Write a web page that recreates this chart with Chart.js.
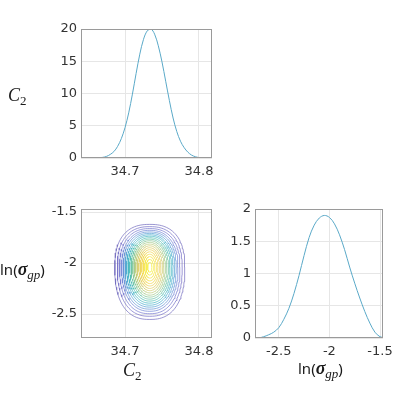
<!DOCTYPE html>
<html>
<head>
<meta charset="utf-8">
<script src="https://cdn.jsdelivr.net/npm/chart.js@4.4.1/dist/chart.umd.min.js"></script>
<style>
  html, body { margin: 0; padding: 0; background: #fff; }
  #wrap { position: relative; width: 399px; height: 393px; overflow: hidden; }
  .panel { position: absolute; }
  .lab { position: absolute; color: #1a1a1a; white-space: nowrap; line-height: 1; }
  .m { font-family: 'Liberation Serif', serif; font-style: italic; font-size: 18px; }
  .fn { font-family: 'Noto Sans', sans-serif; font-size: 15px; }
  .sig { font-family: 'Liberation Serif', serif; font-style: italic; font-weight: bold; font-size: 18px; }
  .sb { position: relative; top: 4px; font-family: 'Liberation Serif', serif; font-size: 13px; }
  .sbi { font-style: italic; }
</style>
</head>
<body>
<div id="wrap">
  <div class="panel" style="left:0;top:0;width:225px;height:190px"><canvas id="c2Chart"></canvas></div>
  <div class="panel" style="left:0;top:180px;width:225px;height:190px"><canvas id="jointChart"></canvas></div>
  <div class="panel" style="left:225px;top:180px;width:174px;height:190px"><canvas id="lnChart"></canvas></div>

  <!-- axis labels -->
  <div class="lab" style="left:8px;top:86px"><span class="m">C</span><span class="sb">2</span></div>
  <div class="lab" style="left:0;top:260px"><span class="fn">ln(</span><span class="sig">σ</span><span class="sb sbi">gp</span><span class="fn">)</span></div>
  <div class="lab" style="left:123px;top:361px"><span class="m">C</span><span class="sb">2</span></div>
  <div class="lab" style="left:298px;top:359px"><span class="fn">ln(</span><span class="sig">σ</span><span class="sb sbi">gp</span><span class="fn">)</span></div>
</div>
<script>
// marginal of C2
const c2Grid = [34.640, 34.645, 34.650, 34.655, 34.660, 34.665, 34.670, 34.675, 34.680, 34.685,
                34.690, 34.695, 34.700, 34.705, 34.710, 34.715, 34.720, 34.725, 34.730, 34.735,
                34.740, 34.745, 34.750, 34.755, 34.760, 34.765, 34.770, 34.775, 34.780, 34.785,
                34.790, 34.795, 34.800, 34.805, 34.810, 34.815, 34.820];
const c2Density = [0, 0, 0, 0, 0.01, 0.04, 0.1, 0.25, 0.55, 1.0,
                   1.8, 3.0, 4.7, 7.0, 9.9, 13.1, 16.1, 18.4, 19.7, 20.0,
                   19.2, 17.4, 14.9, 11.9, 8.9, 6.2, 4.1, 2.6, 1.6, 0.9,
                   0.45, 0.2, 0.07, 0.02, 0, 0, 0];

// marginal of ln(sigma_gp)
const lnGrid = [-2.75, -2.70, -2.65, -2.60, -2.55, -2.50, -2.45, -2.40, -2.35, -2.30,
                -2.25, -2.20, -2.15, -2.10, -2.05, -2.00, -1.95, -1.90, -1.85, -1.80,
                -1.75, -1.70, -1.65, -1.60, -1.55, -1.50, -1.45];
const lnDensity = [0, 0, 0.02, 0.05, 0.09, 0.16, 0.29, 0.46, 0.69, 0.97,
                   1.28, 1.56, 1.75, 1.86, 1.90, 1.87, 1.77, 1.60, 1.37, 1.10,
                   0.85, 0.62, 0.41, 0.23, 0.09, 0.02, 0];

// ticks
const c2Ticks = [34.7, 34.8];
const c2TickLabels = ['34.7', '34.8'];
const lnTicks = [-2.5, -2, -1.5];
const lnTickLabels = ['-2.5', '-2', '-1.5'];
const c2DensTicks = [0, 5, 10, 15, 20];
const c2DensTickLabels = ['0', '5', '10', '15', '20'];
const lnDensTicks = [0, 0.5, 1, 1.5, 2];
const lnDensTickLabels = ['0', '0.5', '1', '1.5', '2'];

// joint contours, outer ring first: half widths in C2, half heights up/down in ln(sigma_gp)
const peakC2 = 34.7335;
const peakLn = -2.04;
const ringRx = [0.0473, 0.0438, 0.0408, 0.0381, 0.0357, 0.0335, 0.0314, 0.0293, 0.0273, 0.0253,
                0.0232, 0.0212, 0.0192, 0.0172, 0.0151, 0.0131, 0.0111, 0.0091, 0.0070, 0.0050, 0.0030];
const ringUp = [0.419, 0.397, 0.378, 0.361, 0.345, 0.331, 0.317, 0.303, 0.288, 0.274,
                0.259, 0.243, 0.226, 0.209, 0.190, 0.171, 0.150, 0.127, 0.103, 0.076, 0.047];
const ringDown = [0.513, 0.482, 0.457, 0.433, 0.412, 0.392, 0.373, 0.353, 0.333, 0.314,
                  0.294, 0.275, 0.253, 0.231, 0.209, 0.185, 0.161, 0.135, 0.108, 0.078, 0.049];
const ringRound = [2.45, 2.4, 2.35, 2.3, 2.3, 2.25, 2.2, 2.2, 2.15, 2.1,
                   2.1, 2.05, 2.05, 2, 2, 2, 2, 2, 2, 2, 2];

// pale parula colours, outer to inner
const ringColors = ['#7068bd', '#726cc6', '#7276ce', '#6d82d4', '#6290d6', '#519ed2', '#43aacb',
                    '#3fb4c0', '#4cbbb3', '#66c1a4', '#84c694', '#a2c986', '#bccb79', '#d2cc6e',
                    '#e2ce64', '#ecd25c', '#f2d855', '#f5df50', '#f6e64c', '#f6ec4a', '#f6f149'];

const lineColor = '#5aa9c8';

function ringPoints(i) {
    const pts = [];
    const n = ringRound[i];
    for (let k = 0; k <= 120; k++) {
        const t = (k / 120) * 2 * Math.PI;
        const c = Math.cos(t), s = Math.sin(t);
        const px = Math.sign(c) * Math.pow(Math.abs(c), 2 / n);
        const py = Math.sign(s) * Math.pow(Math.abs(s), 2 / n);
        pts.push({ x: peakC2 + ringRx[i] * px, y: peakLn + (py > 0 ? ringUp[i] : ringDown[i]) * py });
    }
    return pts;
}

// draws the full box round the plot area
const boxPlugin = {
    id: 'box',
    afterDraw(chart) {
        const { ctx, chartArea: a } = chart;
        ctx.save();
        ctx.strokeStyle = '#9a9a9a';
        ctx.lineWidth = 1;
        ctx.strokeRect(Math.round(a.left) + 0.5, Math.round(a.top) + 0.5,
                       Math.round(a.width) - 1, Math.round(a.height) - 1);
        ctx.restore();
    },
};

function axis(min, max, ticks, labels, size, horizontal) {
    return {
        type: 'linear',
        min: min,
        max: max,
        afterBuildTicks: (s) => { s.ticks = ticks.map((v) => ({ value: v })); },
        afterFit: (s) => { if (horizontal) s.height = size; else s.width = size; },
        ticks: {
            callback: (v, i) => labels[i],
            font: { family: 'DejaVu Sans', size: 13 },
            color: '#333',
            padding: horizontal ? 6 : 4,
            maxRotation: 0,
            autoSkip: false,
        },
        grid: { color: '#e6e6e6', drawTicks: false },
        border: { display: false },
    };
}

function baseOptions(scales, padding) {
    return {
        responsive: true,
        maintainAspectRatio: false,
        animation: false,
        devicePixelRatio: 1,
        layout: { padding: padding },
        plugins: { legend: { display: false }, tooltip: { enabled: false } },
        scales: scales,
    };
}

const c2Range = [34.6405, 34.8176];
const lnRange = [-2.735, -1.47];

// C2 marginal
new Chart(document.getElementById('c2Chart').getContext('2d'), {
    type: 'line',
    data: {
        datasets: [{
            data: c2Grid.map((x, i) => ({ x: x, y: c2Density[i] })),
            borderColor: lineColor,
            borderWidth: 1,
            pointRadius: 0,
            tension: 0.35,
        }],
    },
    options: baseOptions({
        x: axis(c2Range[0], c2Range[1], c2Ticks, c2TickLabels, 32, true),
        y: axis(0, 20, c2DensTicks, c2DensTickLabels, 81, false),
    }, { left: 0, right: 13, top: 29, bottom: 0 }),
    plugins: [boxPlugin],
});

// joint contours
new Chart(document.getElementById('jointChart').getContext('2d'), {
    type: 'scatter',
    data: {
        datasets: ringRx.map((r, i) => ({
            data: ringPoints(i),
            showLine: true,
            borderColor: ringColors[i],
            borderWidth: 0.7,
            pointRadius: 0,
            tension: 0,
        })),
    },
    options: baseOptions({
        x: axis(c2Range[0], c2Range[1], c2Ticks, c2TickLabels, 32, true),
        y: axis(lnRange[0], lnRange[1], lnTicks, lnTickLabels, 81, false),
    }, { left: 0, right: 13, top: 29, bottom: 0 }),
    plugins: [boxPlugin],
});

// ln(sigma_gp) marginal
new Chart(document.getElementById('lnChart').getContext('2d'), {
    type: 'line',
    data: {
        datasets: [{
            data: lnGrid.map((x, i) => ({ x: x, y: lnDensity[i] })),
            borderColor: lineColor,
            borderWidth: 1,
            pointRadius: 0,
            tension: 0.35,
        }],
    },
    options: baseOptions({
        x: axis(lnRange[0], lnRange[1], lnTicks, lnTickLabels, 32, true),
        y: axis(0, 2, lnDensTicks, lnDensTickLabels, 30, false),
    }, { left: 0, right: 13, top: 29, bottom: 0 }),
    plugins: [boxPlugin],
});
</script>
</body>
</html>
